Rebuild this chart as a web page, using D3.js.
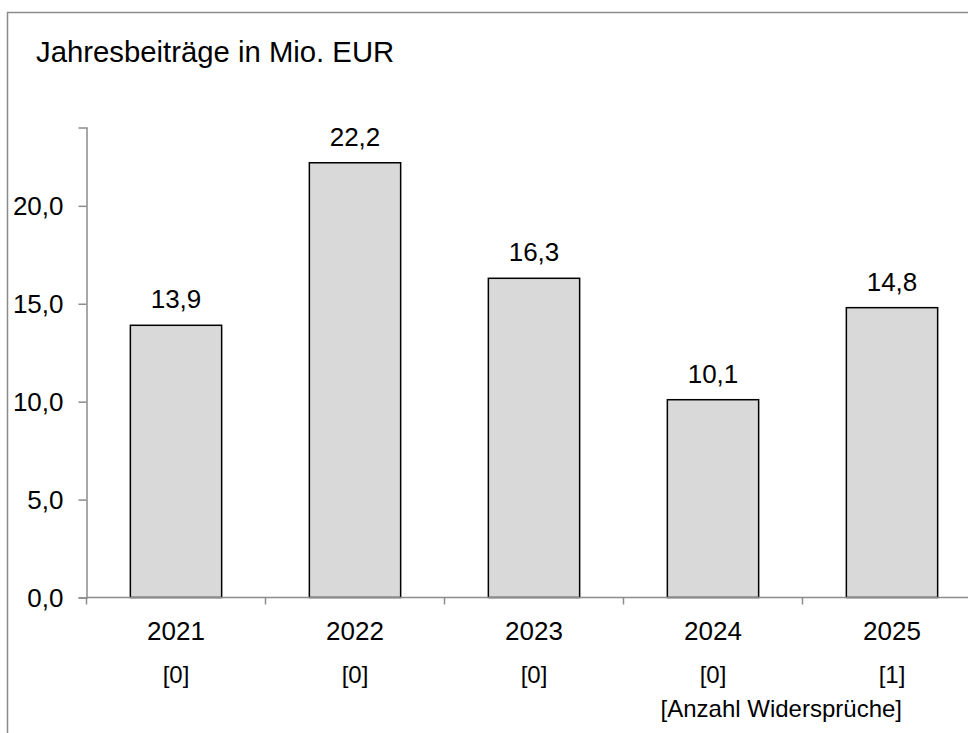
<!DOCTYPE html>
<html>
<head>
<meta charset="utf-8">
<script src="https://cdn.jsdelivr.net/npm/d3@7"></script>
<style>
  body { margin: 0; background: #fff; }
  svg { display: block; }
</style>
</head>
<body>
<svg id="chart" width="968" height="733"></svg>
<script>
var years = ["2021", "2022", "2023", "2024", "2025"];
var beitraege = [13.9, 22.2, 16.3, 10.1, 14.8];
var widersprueche = ["[0]", "[0]", "[0]", "[0]", "[1]"];
var yTicks = [0, 5, 10, 15, 20];

var svg = d3.select("#chart");
var font = '"Liberation Sans", Arial, sans-serif';

var margin = { top: 127.5, left: 86.5, bottom: 135.5 };
var bandWidth = 179;
var drawHeight = 733 - margin.top - margin.bottom;

// outer frame (right / bottom edge run off the page)
svg.append("rect")
  .attr("x", 7.5).attr("y", 12.5)
  .attr("width", 1000).attr("height", 1000)
  .style("fill", "none")
  .style("stroke", "#8c8c8c")
  .style("stroke-width", "1.5px");

svg.append("text")
  .attr("x", 36).attr("y", 62)
  .style("font-family", font)
  .style("font-size", "29.3px")
  .style("fill", "#000")
  .text("Jahresbeiträge in Mio. EUR");

var x = d3.scaleBand()
  .domain(years)
  .range([margin.left, margin.left + bandWidth * years.length])
  .paddingInner(0.49)
  .paddingOuter(0.245);

var y = d3.scaleLinear()
  .domain([0, 24])
  .range([margin.top + drawHeight, margin.top]);

var axisColor = "#8c8c8c";

// y axis
var yAxis = svg.append("g")
  .attr("transform", "translate(" + margin.left + ",0)")
  .call(d3.axisLeft(y).tickValues(yTicks).tickSize(8).tickPadding(15)
    .tickFormat(function (d) { return d3.format(".1f")(d).replace(".", ","); }));
yAxis.select(".domain").attr("stroke", axisColor).attr("stroke-width", 1.5);
yAxis.selectAll(".tick line").attr("stroke", axisColor).attr("stroke-width", 1.5);
yAxis.selectAll(".tick text")
  .style("font-family", font).style("font-size", "26px").style("fill", "#000")
  .attr("dy", "0.35em");

// bars
svg.append("g").selectAll("rect")
  .data(beitraege)
  .enter().append("rect")
  .attr("x", function (d, i) { return x(years[i]); })
  .attr("y", function (d) { return y(d); })
  .attr("width", x.bandwidth())
  .attr("height", function (d) { return y(0) - y(d); })
  .style("fill", "#d9d9d9")
  .style("stroke", "#000")
  .style("stroke-width", "1.5px");

// value labels
svg.append("g").selectAll("text")
  .data(beitraege)
  .enter().append("text")
  .attr("x", function (d, i) { return x(years[i]) + x.bandwidth() / 2; })
  .attr("y", function (d) { return y(d) - 17; })
  .style("text-anchor", "middle")
  .style("font-family", font).style("font-size", "26px")
  .text(function (d) { return d3.format(".1f")(d).replace(".", ","); });

// x axis line + ticks between categories
var xg = svg.append("g");
xg.append("line")
  .attr("x1", margin.left).attr("x2", 968)
  .attr("y1", y(0)).attr("y2", y(0))
  .attr("stroke", axisColor).attr("stroke-width", 1.5);
xg.selectAll("line.tk")
  .data(d3.range(years.length + 1))
  .enter().append("line")
  .attr("class", "tk")
  .attr("x1", function (i) { return margin.left + bandWidth * i; })
  .attr("x2", function (i) { return margin.left + bandWidth * i; })
  .attr("y1", y(0)).attr("y2", y(0) + 7)
  .attr("stroke", axisColor).attr("stroke-width", 1.5);

// year labels
svg.append("g").selectAll("text")
  .data(years)
  .enter().append("text")
  .attr("x", function (d) { return x(d) + x.bandwidth() / 2; })
  .attr("y", y(0) + 42)
  .style("text-anchor", "middle")
  .style("font-family", font).style("font-size", "26px")
  .text(function (d) { return d; });

// objection counts
svg.append("g").selectAll("text")
  .data(widersprueche)
  .enter().append("text")
  .attr("x", function (d, i) { return x(years[i]) + x.bandwidth() / 2; })
  .attr("y", y(0) + 85)
  .style("text-anchor", "middle")
  .style("font-family", font).style("font-size", "24px")
  .text(function (d) { return d; });

svg.append("text")
  .attr("x", 902).attr("y", y(0) + 119)
  .style("text-anchor", "end")
  .style("font-family", font).style("font-size", "24px")
  .text("[Anzahl Widersprüche]");
</script>
</body>
</html>
